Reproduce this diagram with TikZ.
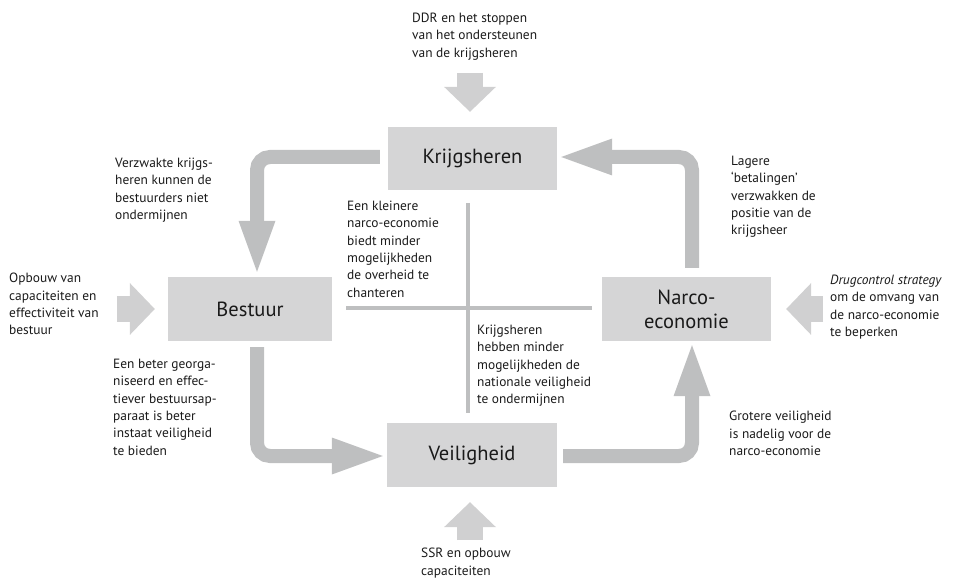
\documentclass[tikz,border=0pt]{standalone}
\usepackage{fontspec}
\setmainfont{PT Sans}
\usetikzlibrary{arrows.meta,calc}
\definecolor{boxgray}{HTML}{D5D5D6}
\definecolor{arrgray}{HTML}{BEBFC0}
\definecolor{ingray}{HTML}{D0D0D1}
\definecolor{txt}{HTML}{1A1A1A}
\begin{document}
\begin{tikzpicture}[x=1pt,y=-1pt,
  box/.style={fill=boxgray, draw=none, inner sep=0pt, font=\fontsize{20.5}{24}\selectfont, text=txt, align=center},
  mainarr/.style={draw=arrgray, line width=14pt, rounded corners=13pt, -{Triangle[width=37pt,length=51pt,line width=0pt]}},
  inarr/.style={draw=ingray, line width=26pt, -{Triangle[width=52pt,length=25pt,line width=0pt]}},
  crossline/.style={draw=arrgray, line width=4pt},
  lbl/.style={anchor=north west, inner sep=0pt, align=left, font=\fontsize{13.4}{17.3}\selectfont, text=txt}]
\useasboundingbox (0,0) rectangle (954,580);
% boxes
\node[box, minimum width=169pt, minimum height=63pt] (K) at (472.5,158.5) {Krijgsheren};
\node[box, minimum width=164pt, minimum height=64pt] (B) at (250,309) {Bestuur};
\node[box, minimum width=169pt, minimum height=64pt] (N) at (686.5,309) {Narco-\\economie};
\node[box, minimum width=170pt, minimum height=64pt] (V) at (472,455) {Veiligheid};
% cross lines
\coordinate (ct) at (468,203);
\coordinate (cb) at (468,413);
\coordinate (cl) at (346,308);
\coordinate (cr) at (592,308);
\draw[crossline] (ct) -- (cb);
\draw[crossline] (cl) -- (cr);
% main cycle arrows
\draw[mainarr] ($(K.west)+(-8,-1.5)$) -| ($(B.north)+(7,-5)$);
\draw[mainarr] ($(B.south)+(7,6)$) |- ($(V.west)+(-4,1)$);
\draw[mainarr] ($(V.east)+(6,1)$) -| ($(N.south)+(5.5,4)$);
\draw[mainarr] ($(N.north)+(5.5,-9)$) |- ($(K.east)+(4,-1.5)$);
% input arrows
\draw[inarr] ($(K.north)+(-2.5,-54)$) -- ($(K.north)+(-2.5,-15)$);
\draw[inarr] ($(V.south)+(-2,53)$) -- ($(V.south)+(-2,15)$);
\draw[inarr] ($(B.west)+(-51,0)$) -- ($(B.west)+(-13,0)$);
\draw[inarr] ($(N.east)+(52,0)$) -- ($(N.east)+(15,0)$);
% labels
\node[lbl] (t1) at (412,13) {DDR en het stoppen\\van het ondersteunen\\van de krijgsheren};
\node[lbl] (t2) at (115,158) {Verzwakte krijgs-\\heren kunnen de\\bestuurders niet\\ondermijnen};
\node[lbl] (t3) at (9,273) {Opbouw van\\capaciteiten en\\effectiviteit van\\bestuur};
\node[lbl] (t4) at (113,359) {Een beter georga-\\niseerd en effec-\\tiever bestuursap-\\paraat is beter\\instaat veiligheid\\te bieden};
\node[lbl] (t5) at (347,201) {Een kleinere\\narco-economie\\biedt minder\\mogelijkheden\\de overheid te\\chanteren};
\node[lbl] (t6) at (477,325) {Krijgsheren\\hebben minder\\mogelijkheden de\\nationale veiligheid\\te ondermijnen};
\node[lbl] (t7) at (731,156) {Lagere\\‘betalingen’\\verzwakken de\\positie van de\\krijgsheer};
\node[lbl] (t8) at (830,275) {\textit{Drugcontrol strategy}\\om de omvang van\\de narco-economie\\te beperken};
\node[lbl] (t9) at (729,411) {Grotere veiligheid\\is nadelig voor de\\narco-economie};
\node[lbl] (t10) at (421,548) {SSR en opbouw\\capaciteiten};
\end{tikzpicture}
\end{document}
